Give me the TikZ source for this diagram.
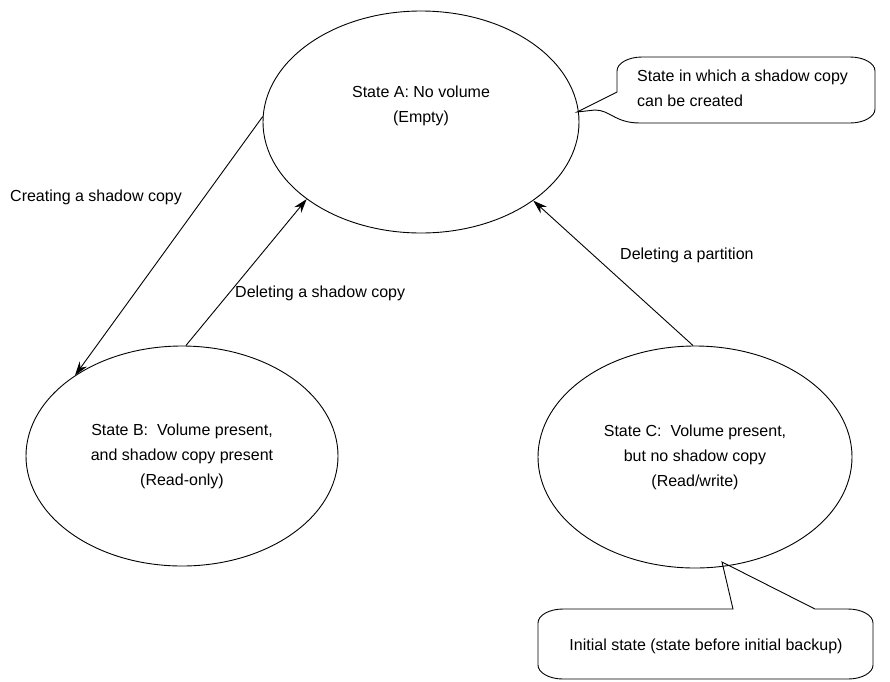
\documentclass[tikz,border=0pt]{standalone}
\usepackage{fontspec}
\setmainfont{Liberation Sans}
\usetikzlibrary{shapes.geometric,arrows.meta}
\begin{document}
\begin{tikzpicture}[x=1pt,y=1pt,
  every node/.style={font=\fontsize{16}{25}\selectfont},
  stateell/.style={draw,line width=0.9pt,ellipse,inner sep=0pt},
  arr/.style={line width=0.9pt,-{Stealth[length=14pt,width=9pt]}},
  lbl/.style={anchor=west,inner sep=0pt},
  callout/.style={draw,line width=0.9pt}]
\useasboundingbox (0,0) rectangle (890,-681);
% states
\node[stateell,minimum width=316pt,minimum height=222pt] (A) at (421,-122) {};
\node[align=center,inner sep=0pt] (Atext) at (421,-106) {State A: No volume\\(Empty)};
\node[stateell,minimum width=312pt,minimum height=220pt,align=center] (B) at (182,-456)
  {State B: \ Volume present,\\and shadow copy present\\(Read-only)};
\node[stateell,minimum width=314pt,minimum height=222pt,align=center] (C) at (695,-457)
  {State C: \ Volume present,\\but no shadow copy\\(Read/write)};
% transitions
\draw[arr] (A.178) -- (B.143.6);
\draw[arr] (B.88.5) -- (A.214.4);
\draw[arr] (C.91) -- (A.-35.2);
\node[lbl] (l1) at (10,-197) {Creating a shadow copy};
\node[lbl] (l2) at (235,-293) {Deleting a shadow copy};
\node[lbl] (l3) at (620,-255) {Deleting a partition};
% callout top right
\coordinate (tipA) at (577,-112);
\draw[callout] (617,-92) -- (tipA) -- (595,-110)
  .. controls (610,-110) and (615,-123) .. (640,-123) -- (850,-123)
  arc[start angle=270,end angle=360,x radius=25,y radius=14] -- (875,-71)
  arc[start angle=0,end angle=90,x radius=25,y radius=14] -- (642,-57)
  arc[start angle=90,end angle=180,x radius=25,y radius=14] -- cycle;
\node[anchor=west,align=left,inner sep=0pt] (n1) at (637,-88)
  {State in which a shadow copy\\can be created};
% callout bottom
\coordinate (tipC) at (722,-562);
\draw[callout] (733,-609) -- (tipC) -- (815,-609) -- (848,-609)
  arc[start angle=90,end angle=0,x radius=25,y radius=14] -- (873,-665)
  arc[start angle=0,end angle=-90,x radius=25,y radius=14] -- (563,-679)
  arc[start angle=270,end angle=180,x radius=25,y radius=14] -- (538,-623)
  arc[start angle=180,end angle=90,x radius=25,y radius=14] -- cycle;
\node[inner sep=0pt] (n2) at (706,-646) {Initial state (state before initial backup)};
\end{tikzpicture}
\end{document}
